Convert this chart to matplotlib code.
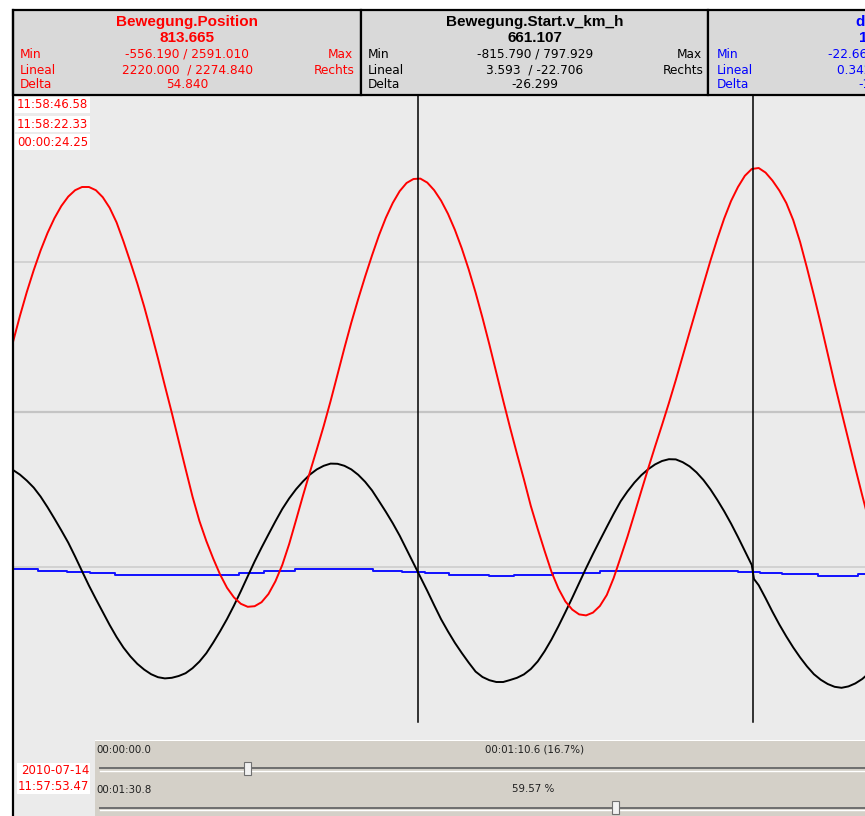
import matplotlib.pyplot as plt
from matplotlib.patches import Rectangle
from matplotlib.lines import Line2D

# time axis in seconds (start of window = 0), readings every half second
time_s = [i / 2 for i in range(125)]

# Bewegung.Position (red)
position = [1125, 1255, 1375, 1484, 1583, 1670, 1744, 1805, 1852, 1884,
            1900, 1900, 1884, 1849, 1796, 1723, 1628, 1525, 1418, 1302,
            1175, 1043, 906, 771, 630, 490, 352, 230, 130, 42,
            -38, -104, -152, -184, -199, -196, -176, -135, -72, 10,
            115, 235, 357, 474, 588, 705, 830, 962, 1095, 1222,
            1340, 1452, 1558, 1658, 1746, 1820, 1879, 1920, 1940, 1942,
            1922, 1884, 1832, 1766, 1686, 1593, 1488, 1372, 1246, 1112,
            972, 832, 696, 565, 438, 305, 190, 80, -25, -108,
            -172, -213, -237, -242, -228, -195, -140, -55, 48, 152,
            265, 380, 493, 603, 710, 820, 935, 1055, 1175, 1294,
            1413, 1530, 1640, 1742, 1830, 1900, 1956, 1990, 1995, 1972,
            1932, 1882, 1820, 1735, 1625, 1495, 1358, 1215, 1066, 917,
            775, 635, 495, 358, 225]

# Bewegung.Start.v_km_h (black), one extra reading after the jump at cursor 2
speed_t = time_s[:108] + [53.66] + time_s[108:]
speed = [485, 462, 432, 397, 352, 299, 242, 183, 122, 52,
         -21, -93, -160, -225, -290, -350, -403, -447, -484, -513,
         -536, -551, -557, -554, -545, -531, -506, -473, -431, -378,
         -321, -260, -193, -121, -46, 28, 97, 163, 228, 290,
         343, 389, 428, 462, 488, 506, 517, 516, 506, 488,
         461, 426, 383, 330, 276, 219, 157, 88, 19, -50,
         -119, -191, -261, -322, -379, -430, -478, -523, -550, -566,
         -575, -575, -565, -554, -537, -510, -472, -421, -362, -296,
         -226, -154, -80, -6, 65, 133, 200, 266, 328, 378,
         422, 459, 489, 513, 530, 539, 538, 524, 503, 473,
         435, 389, 336, 279, 217, 150, 80, 10, -60, -91, -156,
         -224, -288, -347, -402, -452, -497, -536, -564, -585, -599,
         -604, -597, -582, -560, -530]

# third channel (blue), stepwise
blue_t = [0, 1.8, 3.9, 5.6, 7.4, 16.4, 18.2, 20.4, 26.1, 28.2, 29.8, 31.6,
          34.5, 36.3, 39.1, 42.5, 45.4, 52.5, 54.1, 55.7, 58.3, 61.2, 62]
blue_v = [-12, -18, -24, -32, -38, -28, -22, -12, -18, -25, -32, -38,
          -45, -38, -32, -22, -18, -25, -32, -37, -45, -37, -37]

cursors = [29.32, 53.57]
grid_levels = [0, 775, 1525]

W, H = 865, 816
fig = plt.figure(figsize=(W / 100, H / 100), dpi=100, facecolor="white")


def fx(x):
    return x / W


def fy(y):
    return 1 - y / H


def box(x0, y0, x1, y1, fc, ec="none", lw=0, z=0):
    fig.patches.append(Rectangle((fx(x0), fy(y1)), fx(x1) - fx(x0), fy(y0) - fy(y1),
                                 transform=fig.transFigure, facecolor=fc,
                                 edgecolor=ec, linewidth=lw, zorder=z))


def line(x0, y0, x1, y1, color, lw, z=3):
    fig.lines.append(Line2D([fx(x0), fx(x1)], [fy(y0), fy(y1)], transform=fig.transFigure,
                            color=color, linewidth=lw, zorder=z))


def txt(x, y, s, color, ha="left", size=8.7, bold=False, family="DejaVu Sans", bg=None):
    kw = {}
    if bg:
        kw["bbox"] = dict(facecolor=bg, edgecolor="none", pad=1.2)
    fig.text(fx(x), fy(y), s, color=color, ha=ha, va="center", fontsize=size,
             fontweight="bold" if bold else "normal", family=family, zorder=6, **kw)


# main plot
ax = fig.add_axes([fx(13), fy(740), fx(865) - fx(13), fy(95) - fy(740)])
ax.set_zorder(1)
ax.set_facecolor("#EBEBEB")
for s in ax.spines.values():
    s.set_visible(False)
ax.set_xticks([])
ax.set_yticks([])
ax.set_xlim(0, 61.7)
ax.set_ylim(-865, 2360)

ax.axhline(grid_levels[0], color="#CDCDCD", lw=1.2, zorder=1)
ax.axhline(grid_levels[1], color="#C4C4C4", lw=1.6, zorder=1)
ax.axhline(grid_levels[2], color="#CDCDCD", lw=1.2, zorder=1)

ax.step(blue_t, blue_v, where="post", color="#1010FF", lw=1.4, zorder=3)
ax.plot(speed_t, speed, color="black", lw=1.4, zorder=3)
ax.plot(time_s, position, color="#FF0000", lw=1.4, zorder=4)
for c in cursors:
    ax.axvline(c, ymin=18 / 645, ymax=1, color="black", lw=1.1, zorder=5)

# background of lower-left corner
box(13, 740, 95, 816, "#EBEBEB", z=2)

# header panels
box(13, 10, 361, 95, "#D9D9D9", "black", 1.6, z=2)
box(361, 10, 708, 95, "#D9D9D9", "black", 1.6, z=2)
box(708, 10, 1060, 95, "#D9D9D9", "black", 1.6, z=2)

txt(187, 22, "Bewegung.Position", "#FF0000", "center", 11, True, "Liberation Sans")
txt(187, 38, "813.665", "#FF0000", "center", 11, True, "Liberation Sans")
txt(20, 54, "Min", "#FF0000")
txt(187, 54, "-556.190 / 2591.010", "#FF0000", "center")
txt(353, 54, "Max", "#FF0000", "right")
txt(20, 70, "Lineal", "#FF0000")
txt(187, 70, "2220.000  / 2274.840", "#FF0000", "center")
txt(355, 70, "Rechts", "#FF0000", "right")
txt(20, 85, "Delta", "#FF0000")
txt(187, 85, "54.840", "#FF0000", "center")

txt(535, 22, "Bewegung.Start.v_km_h", "black", "center", 11, True, "Liberation Sans")
txt(535, 38, "661.107", "black", "center", 11, True, "Liberation Sans")
txt(368, 54, "Min", "black")
txt(535, 54, "-815.790 / 797.929", "black", "center")
txt(702, 54, "Max", "black", "right")
txt(368, 70, "Lineal", "black")
txt(535, 70, "3.593  / -22.706", "black", "center")
txt(704, 70, "Rechts", "black", "right")
txt(368, 85, "Delta", "black")
txt(535, 85, "-26.299", "black", "center")

txt(882, 22, "delta_v", "#0000FF", "center", 11, True, "Liberation Sans")
txt(882, 38, "12.345", "#0000FF", "center", 11, True, "Liberation Sans")
txt(717, 54, "Min", "#0000FF")
txt(882, 54, "-22.660 / 122.660", "#0000FF", "center")
txt(717, 70, "Lineal", "#0000FF")
txt(882, 70, "0.342  / -0.522", "#0000FF", "center")
txt(717, 85, "Delta", "#0000FF")
txt(882, 85, "-10.123", "#0000FF", "center")

# cursor time labels
txt(17, 105, "11:58:46.58", "#FF0000", size=8.5, bg="white")
txt(17, 124, "11:58:22.33", "#FF0000", size=8.5, bg="white")
txt(17, 142, "00:00:24.25", "#FF0000", size=8.5, bg="white")

# bottom slider panel
box(95, 741, 865, 816, "#D4D0C8", z=2)
line(100, 768, 865, 768, "#6E6E6E", 1.4)
line(100, 770.5, 865, 770.5, "white", 1.0)
line(100, 807.5, 865, 807.5, "#6E6E6E", 1.4)
line(100, 810, 865, 810, "white", 1.0)
box(244, 762, 251, 775, "#F2F2F2", "#707070", 0.8, z=4)
box(612, 801, 619, 814, "#F2F2F2", "#707070", 0.8, z=4)
txt(96, 750, "00:00:00.0", "#202020", size=7.4)
txt(535, 750, "00:01:10.6 (16.7%)", "#202020", "center", 7.4)
txt(96, 790, "00:01:30.8", "#202020", size=7.4)
txt(533, 789, "59.57 %", "#202020", "center", 7.4)

box(17, 763, 90, 794, "white", z=3)
txt(89, 771, "2010-07-14", "#FF0000", "right", 8.5)
txt(89, 786, "11:57:53.47", "#FF0000", "right", 8.5)

# left border
line(12.5, 10, 12.5, 816, "black", 1.6, z=5)

fig.savefig("out.png", dpi=100)
